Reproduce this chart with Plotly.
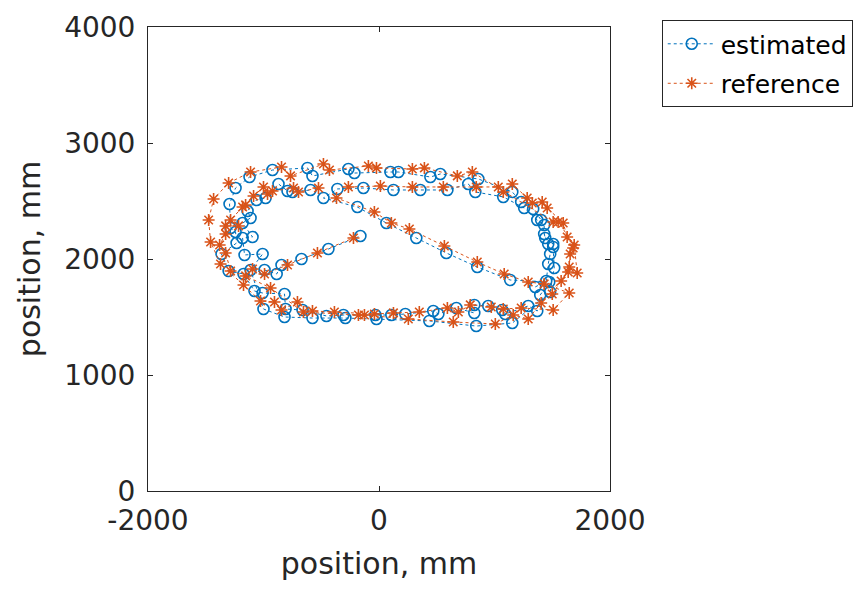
import plotly.graph_objects as go

BLUE = "#0072BD"
ORANGE = "#D95319"
FONT = "DejaVu Sans"

# Estimated trajectory (mm): main path, then the short ascending leg
est_x_main = [
    1353, 1448, 1465, 1482, 1465, 1430, 1430, 1370, 1257, 1076,
    834, 773, 592, 358, 125, -135, -360, -481,
    -187, 64, 323, 583, 851, 1136,
    1474, 1396, 1370,
    1292, 1093, 1067, 946, 825, 825, 670, 514, 470, 228, 107, -31, -308, -455, -662, -809,
    -818, -1008, -1078, -1173, -1302, -1363, -1233, -1242, -1285, -1294, -1242,
    -1121, -922, -619, -576, -265, -213, 99, 168, 445, 531, 860, 1154,
    1231, 1335, 1404, 1439, 1508, 1508, 1517, 1482,
    1154, 842, 436, -22, -291, -576, -818, -1000,
    -1112, -1008, -1164, -1181, -1095, -1181, -1112, -1138, -1060, -982, -870, -792, -749, -593,
]
est_y_main = [
    1759, 1810, 1957, 2043, 2129, 2216, 2293, 2336, 2440, 2535,
    2578, 2647, 2595, 2595, 2595, 2612, 2604, 2526,
    2448, 2310, 2181, 2052, 1931, 1819,
    1802, 1690, 1552,
    1595, 1526, 1560, 1595, 1604, 1535, 1578, 1526, 1552, 1526, 1517, 1517, 1517, 1509, 1560, 1569,
    1698, 1707, 1724, 1871, 1897, 2043, 2138, 2233, 2267, 2474, 2612,
    2707, 2767, 2785, 2716, 2776, 2741, 2750, 2750, 2707, 2733, 2690, 2578,
    2491, 2431, 2336, 2181, 2129, 2104, 1922, 1716,
    1448, 1422, 1466, 1483, 1491, 1491, 1500, 1569,
    1905, 2043, 2035, 2181, 2190, 2310, 2354, 2414, 2509, 2526, 2647, 2586, 2578, 2595,
]
est_x_leg = [-991, -886, -844, -671, -438, -161]
est_y_leg = [1905, 1871, 1948, 2000, 2086, 2198]

# Reference trajectory (mm)
ref_x_main = [
    1500, 1577, 1647, 1655, 1681, 1629, 1595, 1456, 1413, 1327, 1283, 1154,
    1076, 1033, 842, 557, 289, 12, -265, -368,
    -40, 107, 263, 566, 851, 1084, 1292, 1430,
    1647, 1508,
    1231, 1076, 972, 790, 687, 592, 349, 125, -40, -386, -576, -706, -844,
    -905, -1026, -1173, -1372, -1458, -1475, -1432, -1302,
    -1112, -844, -766, -481, -429, -92, -22, 289, 393, 678, 808,
    1508, 1551, 1690, 1716, 1638, 1404,
    1292, 1162, 1007, 643, 254, -126, -178, -654,
    -939, -1155, -1285, -1328, -1380, -1328, -1328, -1216, -1285, -1181, -1155, -1086,
    -1000, -965, -922, -740, -697, -524,
]
ref_y_main = [
    1698, 1810, 1931, 2043, 2095, 2190, 2310, 2440, 2491, 2483, 2526, 2647,
    2578, 2621, 2621, 2621, 2621, 2629, 2621, 2526,
    2405, 2310, 2259, 2112, 1974, 1871, 1802, 1785,
    1707, 1560,
    1578, 1569, 1586, 1604, 1543, 1578, 1543, 1535, 1526, 1543, 1552, 1629, 1560,
    1629, 1638, 1776, 1957, 2147, 2336, 2517, 2655,
    2750, 2793, 2716, 2819, 2767, 2802, 2785, 2776, 2785, 2716, 2750,
    2319, 2319, 2121, 1879, 1888, 1621,
    1483, 1517, 1440, 1457, 1483, 1517, 1517, 1543,
    1750, 1854, 1897, 2052, 2121, 2216, 2285, 2285, 2336, 2448, 2466, 2543,
    2621, 2560, 2586, 2612, 2578, 2612,
]
ref_x_leg = [-1095, -991, -792, -533, -221]
ref_y_leg = [1914, 1871, 1948, 2052, 2181]

x_ticks = [-2000, 0, 2000]
y_ticks = [0, 1000, 2000, 3000, 4000]


def joined(a, b):
    # two path pieces drawn as one trace, with a break between them
    return list(a) + [None] + list(b)


fig = go.Figure()
fig.add_trace(go.Scatter(
    x=joined(est_x_main, est_x_leg), y=joined(est_y_main, est_y_leg),
    mode="lines+markers", name="estimated", connectgaps=False, legendgroup="est",
    line=dict(color=BLUE, width=1, dash="dot"),
    marker=dict(symbol="circle-open", size=11, color=BLUE, line=dict(width=1.6, color=BLUE)),
))
fig.add_trace(go.Scatter(
    x=joined(ref_x_main, ref_x_leg), y=joined(ref_y_main, ref_y_leg),
    mode="lines+markers", name="reference", connectgaps=False, legendgroup="ref",
    line=dict(color=ORANGE, width=1, dash="dot"),
    marker=dict(symbol="asterisk-open", size=10, color=ORANGE, line=dict(width=1.6, color=ORANGE)),
))

axis_common = dict(
    showgrid=False, zeroline=False, showline=True, mirror="ticks",
    linecolor="#262626", linewidth=1, ticks="inside", ticklen=5,
    tickcolor="#262626", tickwidth=1,
    tickfont=dict(family=FONT, size=28, color="#262626"),
)
fig.update_xaxes(
    range=[-2000, 2000], tickvals=x_ticks, ticktext=[str(v) for v in x_ticks],
    ticklabelstandoff=4,
    title=dict(text="position, mm", font=dict(family=FONT, size=30, color="#262626"), standoff=17),
    **axis_common,
)
fig.update_yaxes(
    range=[0, 4000], tickvals=y_ticks, ticktext=[str(v) for v in y_ticks],
    ticklabelstandoff=6,
    title=dict(text="position, mm", font=dict(family=FONT, size=30, color="#262626"), standoff=14),
    **axis_common,
)
fig.update_layout(
    width=859, height=589,
    margin=dict(l=148, r=249, t=27, b=98, autoexpand=False),
    paper_bgcolor="white", plot_bgcolor="white",
    showlegend=True,
    legend=dict(
        x=1.112, y=1.015, xanchor="left", yanchor="top",
        bgcolor="white", bordercolor="#262626", borderwidth=1,
        font=dict(family=FONT, size=25, color="#000000"),
        itemwidth=48, tracegroupgap=4,
    ),
)

fig.write_html("out.html")
